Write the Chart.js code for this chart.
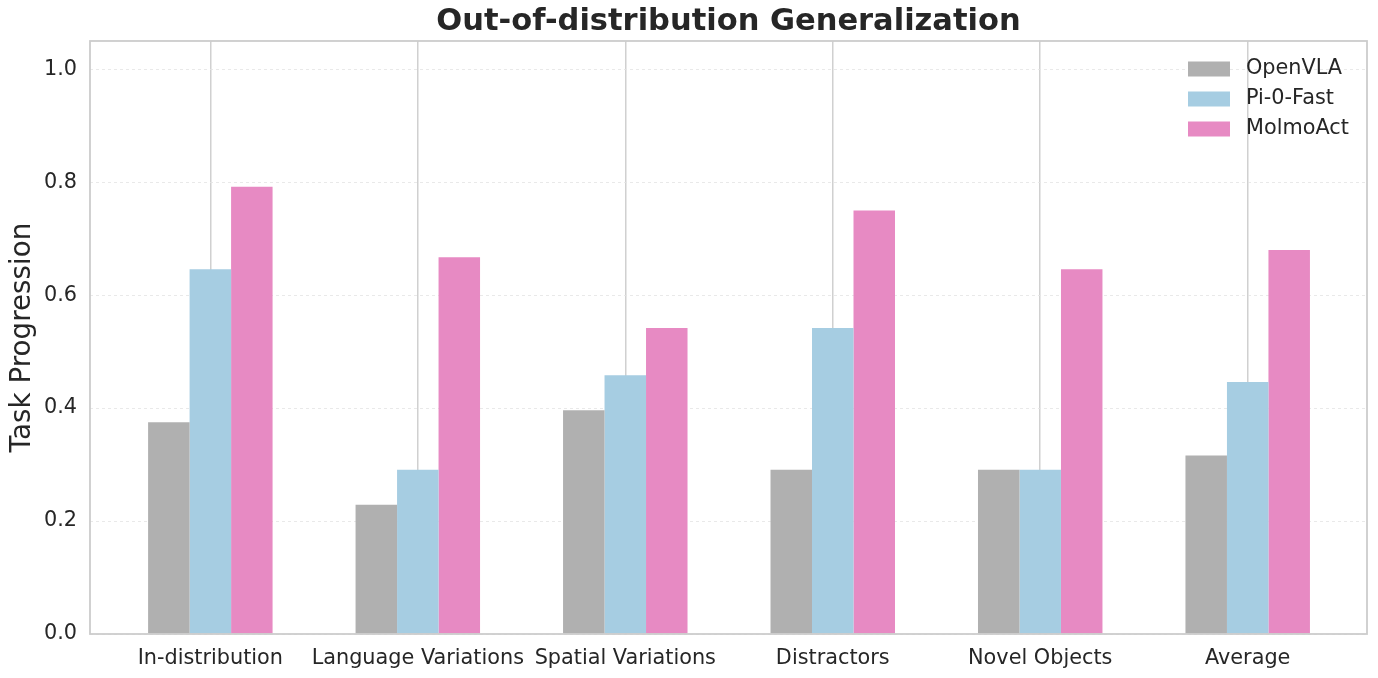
<!DOCTYPE html>
<html>
<head>
<meta charset="utf-8">
<script src="https://cdn.jsdelivr.net/npm/chart.js@4.4.0/dist/chart.umd.min.js"></script>
<style>
html,body{margin:0;padding:0;background:#fff;}
#wrap{width:1378px;height:678px;}
</style>
</head>
<body>
<div id="wrap"><canvas id="c" width="1378" height="678"></canvas></div>
<script>
const categories = ["In-distribution","Language Variations","Spatial Variations","Distractors","Novel Objects","Average"];
const openvla = [0.375, 0.229, 0.396, 0.291, 0.291, 0.316];
const pi0fast = [0.646, 0.291, 0.458, 0.542, 0.291, 0.446];
const molmoact = [0.792, 0.667, 0.542, 0.750, 0.646, 0.680];
const seriesNames = ["OpenVLA","Pi-0-Fast","MolmoAct"];
const yTicks = [0.0, 0.2, 0.4, 0.6, 0.8, 1.0];
const chartTitle = "Out-of-distribution Generalization";

const colors = ["#b0b0b0","#a6cde2","#e78ac3"];
const FONT = "'DejaVu Sans', sans-serif";
const TXT = "#262626";

function pts(arr){ return arr.map((v,i)=>({x:i,y:v})); }

const frameAndLegend = {
  id:'frameAndLegend',
  afterDraw(chart){
    const {ctx, chartArea:a} = chart;
    ctx.save();
    ctx.strokeStyle = '#cccccc';
    ctx.lineWidth = 1.8;
    ctx.strokeRect(a.left, a.top, a.right-a.left, a.bottom-a.top);
    // title centred over the plot area
    ctx.fillStyle = TXT;
    ctx.font = "bold 30.5px " + FONT;
    ctx.textAlign = 'center';
    ctx.textBaseline = 'middle';
    ctx.fillText(chartTitle, (a.left+a.right)/2, 22);
    // legend
    ctx.font = "20.8px " + FONT;
    ctx.textAlign = 'left';
    chart.data.datasets.forEach((ds,i)=>{
      const y = 69 + i*30;
      ctx.fillStyle = ds.backgroundColor;
      ctx.fillRect(1188, y-7.5, 42, 15);
      ctx.fillStyle = TXT;
      ctx.fillText(ds.label, 1246, y);
    });
    ctx.restore();
  }
};

new Chart(document.getElementById('c'), {
  type:'bar',
  data:{
    datasets:[
      {label:seriesNames[0], data:pts(openvla), backgroundColor:colors[0]},
      {label:seriesNames[1], data:pts(pi0fast), backgroundColor:colors[1]},
      {label:seriesNames[2], data:pts(molmoact), backgroundColor:colors[2]}
    ]
  },
  plugins:[frameAndLegend],
  options:{
    responsive:false,
    animation:false,
    devicePixelRatio:1,
    categoryPercentage:0.6,
    barPercentage:1.0,
    layout:{padding:{left:0,right:11,top:41,bottom:0}},
    plugins:{
      legend:{display:false},
      tooltip:{enabled:false},
      title:{display:false}
    },
    scales:{
      x:{
        type:'linear',
        min:-0.58,
        max:5.575,
        offset:false,
        afterBuildTicks(s){ s.ticks = categories.map((_,i)=>({value:i})); },
        afterFit(s){ s.height = 44; },
        ticks:{
          color:TXT,
          font:{family:FONT,size:20.8},
          padding:12,
          autoSkip:false,
          maxRotation:0,
          callback:(v)=>categories[v] ?? ''
        },
        grid:{color:'#d0d0d0', lineWidth:1.5, drawTicks:false, offset:false},
        border:{display:false}
      },
      y:{
        min:0,
        max:1.05,
        afterBuildTicks(s){ s.ticks = yTicks.map(v=>({value:v})); },
        afterFit(s){ s.width = 90; },
        ticks:{
          color:TXT,
          font:{family:FONT,size:20.8},
          padding:13,
          callback:(v)=>Number(v).toFixed(1)
        },
        grid:{color:'#e4e4e4', lineWidth:0.8, drawTicks:false},
        border:{display:false, dash:[3,3]},
        title:{
          display:true,
          text:"Task Progression",
          color:TXT,
          font:{family:FONT,size:27.8},
          padding:{top:6,bottom:0}
        }
      }
    }
  }
});
</script>
</body>
</html>
